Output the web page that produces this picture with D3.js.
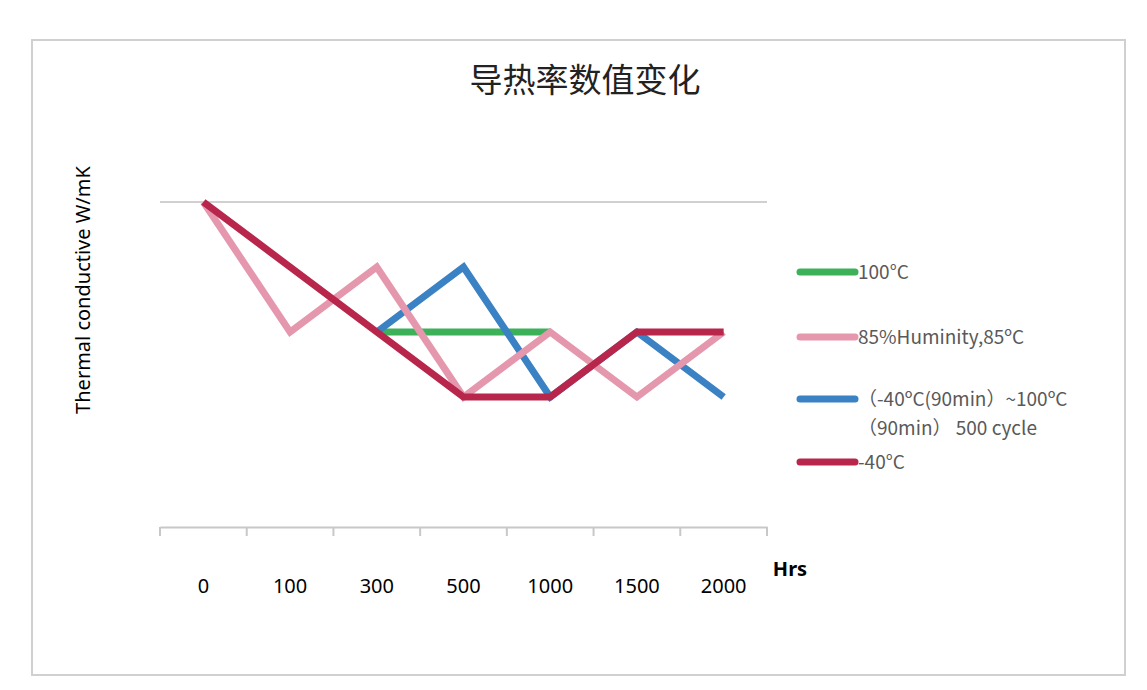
<!DOCTYPE html><html><head><meta charset="utf-8"><script src="https://cdn.jsdelivr.net/npm/d3@7"></script>
<style>body{margin:0;background:#fff}</style></head><body><svg id="c" width="1147" height="690"></svg>
<script>
const categories=["0","100","300","500","1000","1500","2000"];
const green=[null,null,3,3,3,null,null];
const pink=[5,3,4,2,3,2,3];
const blue=[null,null,3,4,2,3,2];
const red=[5,4,3,2,2,3,3];
const legendLabels=[["100°C"],["85%Huminity,85ºC"],["（-40ºC(90min）~100ºC","（90min） 500 cycle"],["-40°C"]];
const series=[{v:green,c:"#3cb15a"},{v:blue,c:"#3a82c4"},{v:pink,c:"#e597ae"},{v:red,c:"#b8264c"}];
const svg=d3.select("#c");
svg.append("rect").attr("x",32).attr("y",40).attr("width",1093).attr("height",635).attr("fill","none").attr("stroke","#d0d0d0").attr("stroke-width",2);
const x=d3.scaleBand().domain(categories).range([160,767]);
const y=d3.scaleLinear().domain([0,5]).range([527,202]);
svg.append("line").attr("x1",160).attr("x2",767).attr("y1",y(5)).attr("y2",y(5)).attr("stroke","#d0d0d0").attr("stroke-width",2);
const ax=svg.append("g").attr("transform","translate(0,527)").call(d3.axisBottom(x).tickSize(0).tickPadding(52));
ax.select(".domain").attr("stroke","#c8c8c8").attr("stroke-width",2);
ax.selectAll("text").attr("font-family","Noto Sans, sans-serif").attr("font-size",20).attr("fill","#000");
const edges=categories.map(c=>x(c)).concat([767]);
svg.selectAll(".tk").data(edges).join("line").attr("x1",d=>d).attr("x2",d=>d).attr("y1",527).attr("y2",536).attr("stroke","#c8c8c8").attr("stroke-width",2);
const line=d3.line().defined(d=>d!=null).x((d,i)=>x(categories[i])+x.bandwidth()/2).y(d=>y(d));
series.forEach(s=>svg.append("path").attr("d",line(s.v)).attr("fill","none").attr("stroke",s.c).attr("stroke-width",7).attr("stroke-linejoin","miter"));
svg.append("text").attr("x",585).attr("y",92).attr("text-anchor","middle").attr("font-family","Noto Sans CJK SC").attr("font-size",33).attr("fill","#222").text("导热率数值变化");
svg.append("text").attr("transform","translate(90,290) rotate(-90)").attr("text-anchor","middle").attr("font-family","Noto Sans, sans-serif").attr("font-size",20).attr("fill","#000").text("Thermal conductive W/mK");
svg.append("text").attr("x",790).attr("y",576).attr("text-anchor","middle").attr("font-family","Noto Sans, sans-serif").attr("font-weight","bold").attr("font-size",20).text("Hrs");
const lc=["#3cb15a","#e597ae","#3a82c4","#b8264c"], ly=[272,337,399,462];
lc.forEach((c,i)=>{
 svg.append("line").attr("x1",800).attr("x2",855).attr("y1",ly[i]).attr("y2",ly[i]).attr("stroke",c).attr("stroke-width",7).attr("stroke-linecap","round");
 const t=svg.append("text").attr("font-family","Noto Sans CJK SC").attr("font-size",19).attr("fill","#595959");
 legendLabels[i].forEach((s,j)=>t.append("tspan").attr("x",858).attr("y",ly[i]+7+j*29).text(s));
});
</script></body></html>
